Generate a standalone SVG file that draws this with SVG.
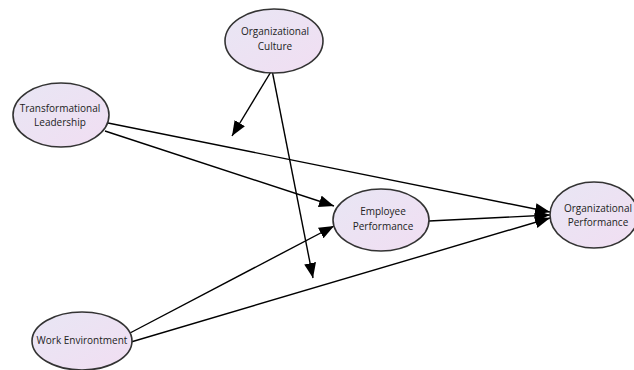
<svg xmlns="http://www.w3.org/2000/svg" width="634" height="370" viewBox="0 0 634 370">
<style>
.node ellipse{fill:url(#g);stroke:#333;stroke-width:1.6}
.node text{font-family:"Open Sans","DejaVu Sans",sans-serif;font-size:10px;fill:#222;text-anchor:middle}
.edges line{stroke:#000;stroke-width:1.4;marker-end:url(#arr)}
</style>
<defs>
<linearGradient id="g" x1="0" y1="0" x2="1" y2="1">
<stop offset="0" stop-color="#e8e6f4"/>
<stop offset="1" stop-color="#f1def2"/>
</linearGradient>
<marker id="arr" markerUnits="userSpaceOnUse" markerWidth="16" markerHeight="12" refX="15" refY="6" orient="auto">
<path d="M0,0 L15,6 L0,12 z" fill="#000"/>
</marker>
</defs>
<rect width="634" height="370" fill="#fff"/>
<g class="edges">
<line x1="108" y1="123" x2="550" y2="212"/>
<line x1="105" y1="131" x2="334" y2="206"/>
<line x1="130" y1="333" x2="334" y2="226"/>
<line x1="131" y1="342" x2="550" y2="218"/>
<line x1="429" y1="221" x2="550" y2="215"/>
<line x1="272" y1="70" x2="232" y2="136"/>
<line x1="272" y1="70" x2="313" y2="278"/>
</g>
<g id="organizational-culture" class="node">
<ellipse cx="274" cy="41" rx="49" ry="32"/>
<text x="275" y="35">Organizational</text>
<text x="275" y="50">Culture</text>
</g>
<g id="transformational-leadership" class="node">
<ellipse cx="61" cy="115" rx="48" ry="32"/>
<text x="60" y="112">Transformational</text>
<text x="60" y="126">Leadership</text>
</g>
<g id="employee-performance" class="node">
<ellipse cx="381" cy="220" rx="48" ry="31"/>
<text x="383" y="215">Employee</text>
<text x="383" y="230">Performance</text>
</g>
<g id="organizational-performance" class="node">
<ellipse cx="594" cy="215" rx="44" ry="33"/>
<text x="598" y="212">Organizational</text>
<text x="598" y="226">Performance</text>
</g>
<g id="work-environment" class="node">
<ellipse cx="82" cy="341" rx="50" ry="29"/>
<text x="82" y="344">Work Environtment</text>
</g>
</svg>
